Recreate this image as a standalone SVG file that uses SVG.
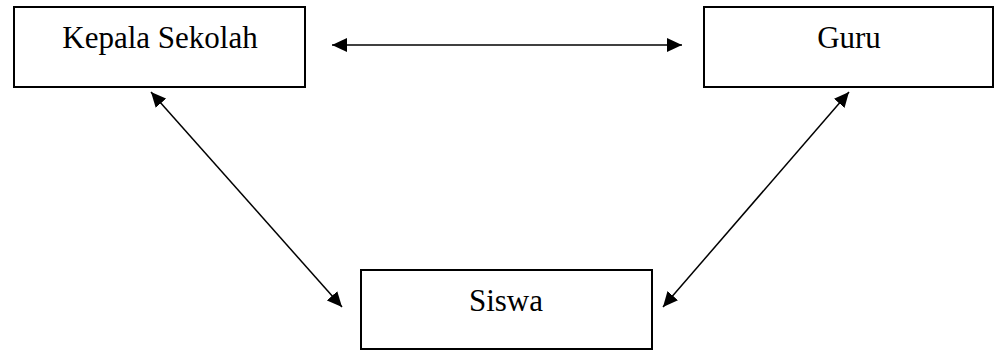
<svg xmlns="http://www.w3.org/2000/svg" width="995" height="350" viewBox="0 0 995 350">
  <style>
    .box { fill: #ffffff; stroke: #000000; stroke-width: 2; }
    .label { font-family: "Liberation Serif", "Times New Roman", serif; font-size: 31px; fill: #000000; text-anchor: middle; }
    .link { stroke: #000000; stroke-width: 1.5; fill: none; marker-start: url(#head); marker-end: url(#head); }
  </style>
  <defs>
    <marker id="head" markerUnits="userSpaceOnUse" markerWidth="16" markerHeight="14" refX="15" refY="7" orient="auto-start-reverse" viewBox="0 0 16 14">
      <path d="M0,0 L15,7 L0,14 Z" fill="#000000"/>
    </marker>
  </defs>
  <rect width="995" height="350" fill="#ffffff"/>

  <g id="connectors">
    <line class="link" x1="332" y1="45" x2="682" y2="45"/>
    <line class="link" x1="151" y1="92" x2="342" y2="307"/>
    <line class="link" x1="849" y1="92" x2="663" y2="307"/>
  </g>

  <g id="kepala-sekolah">
    <rect class="box" x="14" y="7" width="291" height="80"/>
    <text class="label" x="160" y="48">Kepala Sekolah</text>
  </g>

  <g id="guru">
    <rect class="box" x="704" y="7" width="289" height="80"/>
    <text class="label" x="849" y="48">Guru</text>
  </g>

  <g id="siswa">
    <rect class="box" x="361" y="270" width="291" height="79"/>
    <text class="label" x="506" y="311">Siswa</text>
  </g>
</svg>
